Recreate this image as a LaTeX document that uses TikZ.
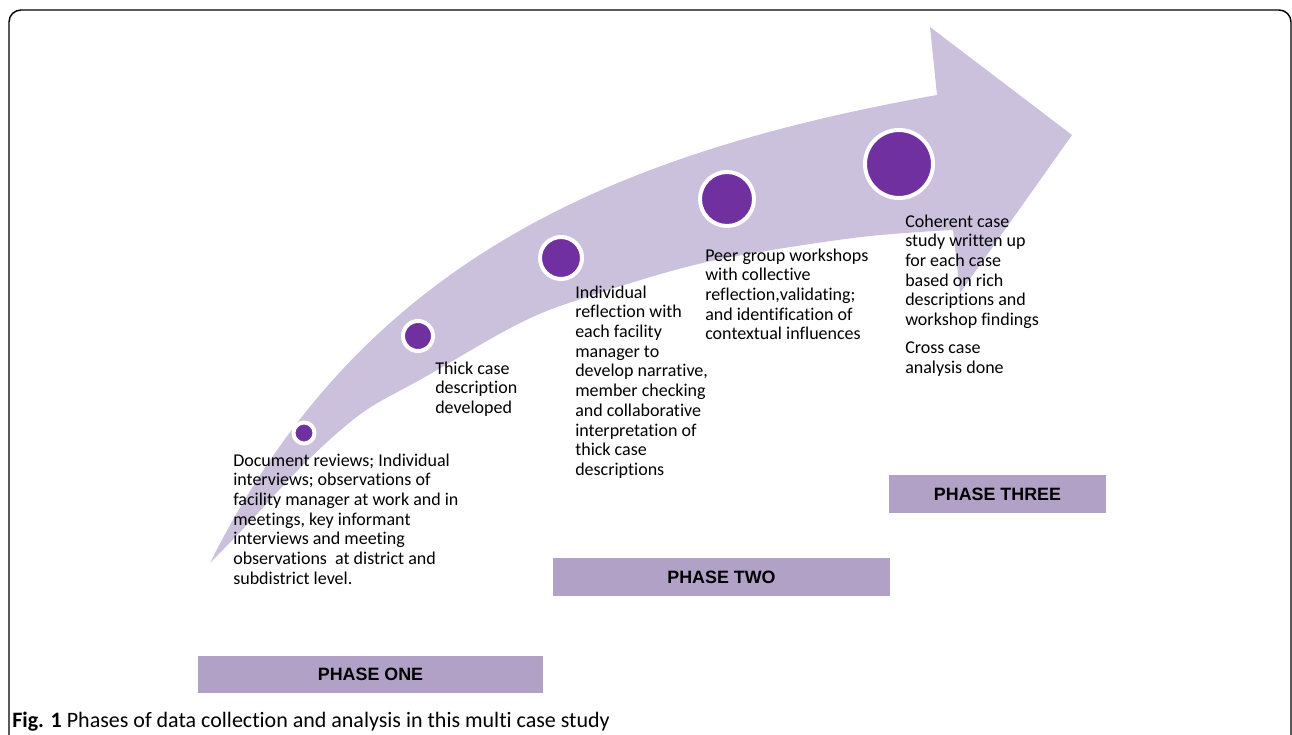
\documentclass[tikz,border=0pt]{standalone}
\usepackage{fontspec}
\setmainfont[Ligatures=NoCommon]{Carlito}
\newfontfamily\phasefont{Liberation Sans}
\usetikzlibrary{positioning}
\definecolor{arrowlav}{HTML}{CBC1DC}
\definecolor{dotpurple}{HTML}{7030A0}
\definecolor{phaselav}{HTML}{B2A1C7}
\newcommand{\lines}[1]{\parbox[t]{7cm}{\raggedright #1}}

\begin{document}
\begin{tikzpicture}[x=0.75pt,y=-0.75pt,
  dot/.style={circle,draw=white,line width=3pt,fill=dotpurple,inner sep=0},
  note/.style={anchor=base west,inner sep=0,font=\fontsize{13.5}{14.8}\selectfont},
  phase/.style={fill=phaselav,minimum height=28pt,inner sep=0,font=\phasefont\fontsize{13.4}{16}\selectfont\bfseries}]
  \useasboundingbox (0,0) rectangle (1292,735);
  % frame
  \draw[line width=1.1pt,rounded corners=9pt] (9,745) -- (9,10) -- (1291,10) -- (1291,745);
  % curved arrow
  \fill[arrowlav] (210,563) .. controls (360,263) and (607,154) .. (937,95)
    -- (930,27) -- (1072,135) -- (960,293) -- (953,230)
    -- plot[smooth,tension=0.55] coordinates {(953,230) (853,238) (707,262) (587,297) (520,323) (425,377) (362,413) (305,463) (245,527) (210,563)} -- cycle;
  % milestones
  \node[dot,minimum size=15.75pt] (c1) at (304,433) {};
  \node[dot,minimum size=22.5pt] (c2) at (418,336) {};
  \node[dot,minimum size=31.5pt] (c3) at (561,258) {};
  \node[dot,minimum size=40.5pt] (c4) at (727,199) {};
  \node[dot,minimum size=51pt] (c5) at (899,164) {};
  % texts
  \node[note] (doc) at (233,466) {\lines{Document reviews; Individual\\interviews; observations of\\facility manager at work and in\\meetings, key informant\\interviews and meeting\\observations\ \ at district and\\subdistrict level.}};
  \node[note] (thick) at (435,374) {\lines{Thick case\\description\\developed}};
  \node[note] (indiv) at (575,298) {\lines{Individual\\reflection with\\each facility\\manager to\\develop narrative,\\member checking\\and collaborative\\interpretation of\\thick case\\descriptions}};
  \node[note] (peer) at (705,261) {\lines{Peer group workshops\\with collective\\reflection,validating;\\and identification of\\contextual influences}};
  \node[note] (coh) at (905,227) {\lines{Coherent case\\study written up\\for each case\\based on rich\\descriptions and\\workshop findings\\[6pt]Cross case\\analysis done}};
  % phases
  \node[phase,minimum width=258.75pt] (p1) at (370.5,674.5) {PHASE ONE};
  \node[phase,minimum width=252.75pt] (p2) at (721.5,577) {PHASE TWO};
  \node[phase,minimum width=162.75pt] (p3) at (997.5,494) {PHASE THREE};
  % caption
  \node[anchor=base west,inner sep=0,font=\fontsize{16.5}{19}\selectfont] (cap) at (12,727) {\textbf{Fig. 1} Phases of data collection and analysis in this multi case study};
\end{tikzpicture}
\end{document}
